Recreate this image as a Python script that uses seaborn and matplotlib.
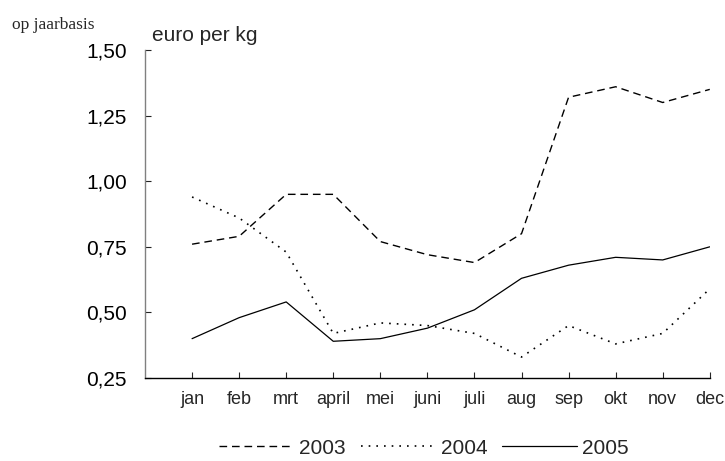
import matplotlib
matplotlib.use("Agg")
import matplotlib.pyplot as plt
import seaborn as sns
import pandas as pd

# maanden en prijzen (euro per kg, op jaarbasis)
months = ['jan', 'feb', 'mrt', 'april', 'mei', 'juni', 'juli', 'aug', 'sep', 'okt', 'nov', 'dec']
y2003 = [0.76, 0.79, 0.95, 0.95, 0.77, 0.72, 0.69, 0.80, 1.32, 1.36, 1.30, 1.35]
y2004 = [0.94, 0.86, 0.73, 0.42, 0.46, 0.45, 0.42, 0.33, 0.45, 0.38, 0.42, 0.59]
y2005 = [0.40, 0.48, 0.54, 0.39, 0.40, 0.44, 0.51, 0.63, 0.68, 0.71, 0.70, 0.75]
years = ['2003', '2004', '2005']
yticks = [0.25, 0.50, 0.75, 1.00, 1.25, 1.50]

df = pd.DataFrame({'maand': range(1, 13), '2003': y2003, '2004': y2004, '2005': y2005})

sns.set_style('white')
plt.rcParams['font.family'] = ['Liberation Sans', 'DejaVu Sans']

fig = plt.figure(figsize=(7.25, 4.61), dpi=100)
ax = fig.add_axes([0.2, 0.18, 0.779, 0.7115])

styles = {'2003': (0, (5.5, 3.5)), '2004': (0, (1, 3.6)), '2005': '-'}
widths = {'2003': 1.0, '2004': 1.2, '2005': 0.9}
for yr in years:
    sns.lineplot(data=df, x='maand', y=yr, ax=ax, color='black', lw=widths[yr],
                 linestyle=styles[yr], label=yr, legend=False)

ax.set_xlim(0, 12)
ax.set_ylim(0.25, 1.50)
ax.set_xticks(range(1, 13))
ax.set_xticklabels(months, family=['Liberation Sans Narrow', 'Liberation Sans'], fontsize=13)
ax.set_yticks(yticks)
ax.set_yticklabels([f'{v:.2f}'.replace('.', ',') for v in yticks], fontsize=15)
ax.set_xlabel('')
ax.set_ylabel('')

ax.tick_params(axis='both', direction='in', length=4, width=0.8)
ax.tick_params(axis='y', pad=13, colors='#222222', labelcolor='black')
ax.tick_params(axis='x', pad=9)
ax.tick_params(left=True, bottom=True)

for s in ['top', 'right']:
    ax.spines[s].set_visible(False)
ax.spines['left'].set_color('#808080')
ax.spines['left'].set_linewidth(1.0)
ax.spines['bottom'].set_color('black')
ax.spines['bottom'].set_linewidth(1.0)

fig.text(0.21, 0.924, 'euro per kg', fontsize=15, va='center', ha='left')
fig.text(0.017, 0.945, 'op jaarbasis', fontsize=12.5, va='center', ha='left',
         family=['Liberation Serif', 'DejaVu Serif'])

handles = ax.get_lines()[:3]
fig.legend(handles, years, loc='center', bbox_to_anchor=(0.585, 0.028), ncol=3,
           frameon=False, fontsize=15, handlelength=3.6, handletextpad=0.25,
           columnspacing=0.7)

fig.savefig('out.png', dpi=100)
